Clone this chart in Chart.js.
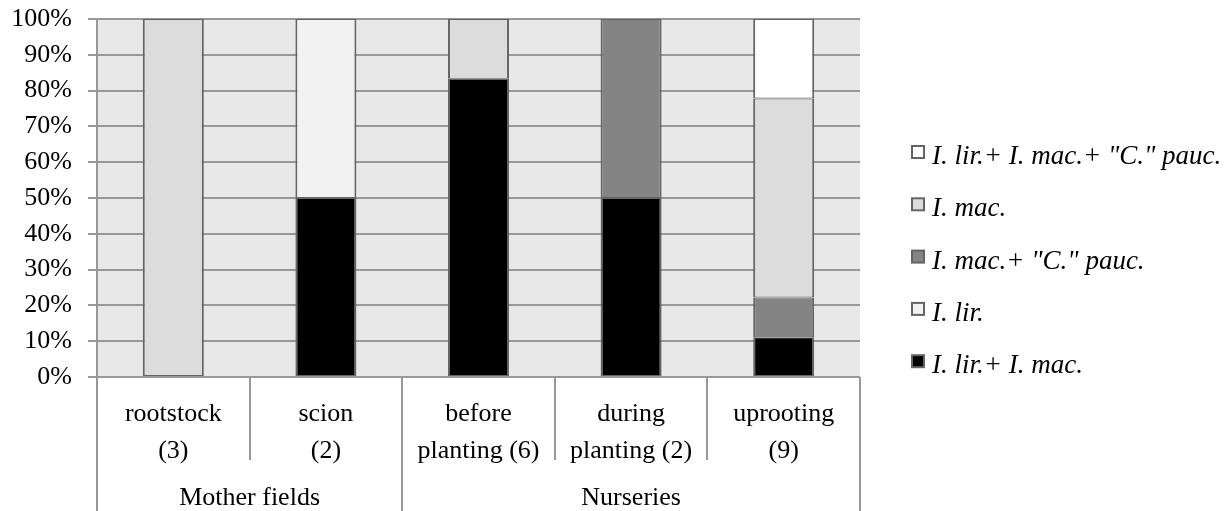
<!DOCTYPE html>
<html>
<head>
<meta charset="utf-8">
<script src="https://cdn.jsdelivr.net/npm/chart.js@4"></script>
<style>
  body { margin: 0; background: #fff; }
</style>
</head>
<body>
<canvas id="chart" width="1231" height="511"></canvas>
<script>
// categories (two lines each) and their groups
const categories = [['rootstock', '(3)'], ['scion', '(2)'], ['before', 'planting (6)'], ['during', 'planting (2)'], ['uprooting', '(9)']];
const groups = [{ name: 'Mother fields', from: 0, to: 1 }, { name: 'Nurseries', from: 2, to: 4 }];

// percentages per category, bottom of stack first
const lirMac = [0, 50, 83.3, 50, 11.1];
const lir = [0, 50, 0, 0, 0];
const macPauc = [0, 0, 0, 50, 11.1];
const mac = [100, 0, 16.7, 0, 55.6];
const lirMacPauc = [0, 0, 0, 0, 22.2];

const FONT = "'Liberation Serif', 'Times New Roman', serif";
const GRID = '#989898';

function ds(label, data, color) {
  return {
    label,
    data,
    backgroundColor: color,
    borderColor: '#656565',
    borderWidth: { left: 2, right: 2, top: 1, bottom: 1 },
    borderSkipped: false,
    barPercentage: 0.4,
    categoryPercentage: 1,
  };
}

const plotBg = {
  id: 'plotBg',
  beforeDraw(chart) {
    const { ctx, chartArea: a } = chart;
    ctx.save();
    ctx.fillStyle = '#e8e8e8';
    ctx.fillRect(a.left, a.top, a.right - a.left, a.bottom - a.top);
    ctx.restore();
  },
};

// two-level category axis + legend on the right
const extras = {
  id: 'extras',
  afterDraw(chart) {
    const { ctx, chartArea: a } = chart;
    const x = chart.scales.x;
    const step = (x.getPixelForValue(1) - x.getPixelForValue(0));
    ctx.save();
    ctx.strokeStyle = GRID;
    ctx.lineWidth = 2;
    const bounds = [0, 2, 5];
    for (let i = 0; i <= categories.length; i += 1) {
      const px = Math.round(x.getPixelForValue(0) - step / 2 + i * step);
      const full = bounds.includes(i);
      ctx.beginPath();
      ctx.moveTo(px, a.bottom);
      ctx.lineTo(px, full ? 511 : 460);
      ctx.stroke();
    }
    ctx.fillStyle = '#000';
    ctx.font = `26px ${FONT}`;
    ctx.textAlign = 'center';
    ctx.textBaseline = 'middle';
    categories.forEach((c, i) => {
      const cx = x.getPixelForValue(i);
      ctx.fillText(c[0], cx, 414);
      ctx.fillText(c[1], cx, 451);
    });
    groups.forEach((g) => {
      const cx = (x.getPixelForValue(g.from) + x.getPixelForValue(g.to)) / 2;
      ctx.fillText(g.name, cx, 498);
    });

    // legend, top series first
    const sets = chart.data.datasets.slice().reverse();
    ctx.textAlign = 'left';
    ctx.textBaseline = 'alphabetic';
    ctx.font = `italic 27px ${FONT}`;
    sets.forEach((d, i) => {
      const cy = 152 + i * 52.3;
      ctx.fillStyle = '#656565';
      ctx.fillRect(911, cy - 7, 14, 14);
      ctx.fillStyle = d.backgroundColor;
      ctx.fillRect(913, cy - 5, 10, 10);
      ctx.fillStyle = '#000';
      ctx.fillText(d.label, 932, cy + 12);
    });
    ctx.restore();
  },
};

new Chart(document.getElementById('chart'), {
  type: 'bar',
  data: {
    labels: categories.map((c) => c.join(' ')),
    datasets: [
      ds('I. lir.+ I. mac.', lirMac, '#000000'),
      ds('I. lir.', lir, '#f2f2f2'),
      ds('I. mac.+ "C." pauc.', macPauc, '#848484'),
      ds('I. mac.', mac, '#dcdcdc'),
      ds('I. lir.+ I. mac.+ "C." pauc.', lirMacPauc, '#ffffff'),
    ],
  },
  options: {
    responsive: false,
    animation: false,
    layout: { padding: { top: 19, right: 371, left: 0, bottom: 0 } },
    plugins: { legend: { display: false }, tooltip: { enabled: false } },
    scales: {
      x: {
        stacked: true,
        grid: { display: false },
        border: { display: false },
        ticks: { display: false },
        afterFit: (s) => { s.height = 134; s.paddingLeft = 0; s.paddingRight = 0; },
      },
      y: {
        stacked: true,
        min: 0,
        max: 100,
        ticks: {
          stepSize: 10,
          padding: 16,
          color: '#000',
          font: { family: FONT, size: 26 },
          callback: (v) => `${v}%`,
        },
        grid: { color: GRID, lineWidth: 2, tickLength: 9 },
        border: { color: GRID, width: 2 },
        afterFit: (s) => { s.width = 97; s.paddingTop = 0; s.paddingBottom = 0; },
      },
    },
  },
  plugins: [plotBg, extras],
});
</script>
</body>
</html>
